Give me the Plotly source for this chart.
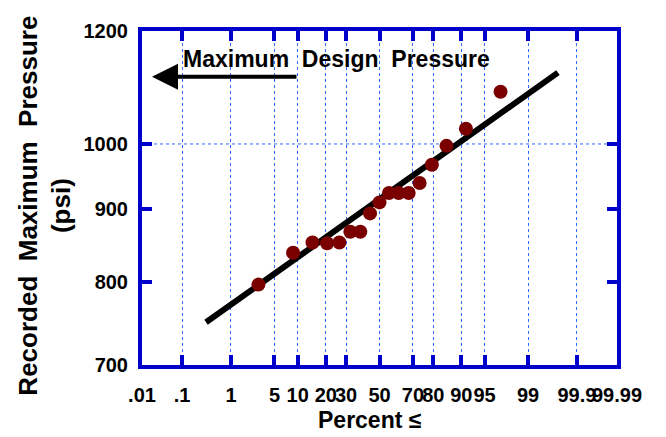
import math
import plotly.graph_objects as go
from statistics import NormalDist

# ---- data ----
percent = [2.9, 8.8, 14.7, 20.6, 26.5, 32.4, 38.2, 44.1, 50.0, 55.9,
           61.8, 67.6, 73.5, 79.4, 85.3, 91.2, 97.1]
pressure = [797, 839, 853, 852, 853, 868, 868, 894, 910, 924,
            924, 924, 939, 967, 997, 1025, 1088]

fit_percent = [0.33, 99.74]
fit_pressure = [750, 1122]

tick_percent = [0.01, 0.1, 1, 5, 10, 20, 30, 50, 70, 80, 90, 95, 99, 99.9, 99.99]
tick_labels = [".01", ".1", "1", "5", "10", "20", "30", "50", "70", "80",
               "90", "95", "99", "99.9", "99.99"]
y_ticks = [700, 800, 900, 1000, 1200]
y_labels = ["700", "800", "900", "1000", "1200"]
y_range = [700, 1200]
design_pressure = 1000

nd = NormalDist()
def z(p):
    return nd.inv_cdf(p / 100.0)

FONT = "Liberation Sans, Arial, sans-serif"
BLUE = "#0000CC"
GRID = "#2F6BFF"

fig = go.Figure()

fig.add_trace(go.Scatter(
    x=[z(p) for p in fit_percent], y=fit_pressure, mode="lines",
    line=dict(color="black", width=6), showlegend=False, hoverinfo="skip"))

fig.add_trace(go.Scatter(
    x=[z(p) for p in percent], y=pressure, mode="markers",
    marker=dict(color="#7A0000", size=14, line=dict(width=0)),
    showlegend=False))

zmin, zmax = z(tick_percent[0]), z(tick_percent[-1])

# page body has an 8px margin; figure sized to compensate
fig.update_layout(
    width=658, height=429,
    margin=dict(l=134, r=49, t=21, b=72),
    paper_bgcolor="white", plot_bgcolor="white",
    font=dict(family=FONT, color="black", size=20, weight="bold"),
    xaxis=dict(
        range=[zmin, zmax],
        tickvals=[z(p) for p in tick_percent], ticktext=tick_labels,
        tickangle=0,
        showgrid=True, gridcolor=GRID, griddash="dot", gridwidth=1,
        zeroline=False,
        showline=True, linecolor=BLUE, linewidth=4, mirror="ticks",
        ticks="inside", ticklen=10, tickwidth=4, tickcolor=BLUE,
        ticklabelstandoff=9,
        tickfont=dict(family=FONT, size=20, color="black", weight="bold"),
    ),
    yaxis=dict(
        type="log",
        range=[math.log10(y_range[0]), math.log10(y_range[1])],
        tickvals=y_ticks, ticktext=y_labels,
        showgrid=False, zeroline=False,
        showline=True, linecolor=BLUE, linewidth=4, mirror="ticks",
        ticks="inside", ticklen=10, tickwidth=4, tickcolor=BLUE,
        ticklabelstandoff=6,
        tickfont=dict(family=FONT, size=20, color="black", weight="bold"),
    ),
)

# horizontal dotted grid at the design pressure
fig.add_shape(type="line", xref="paper", x0=0, x1=1, yref="y",
              y0=design_pressure, y1=design_pressure,
              line=dict(color=GRID, width=1, dash="dot"), layer="below")

# arrow and label
fig.add_annotation(xref="paper", yref="paper", x=0.021, y=0.863,
                   axref="pixel", ayref="pixel", ax=146, ay=0,
                   text="", showarrow=True, arrowhead=2, arrowsize=1.3,
                   arrowwidth=4, arrowcolor="black")
fig.add_annotation(xref="paper", yref="paper", x=0.41, y=0.917,
                   text="Maximum  Design  Pressure", showarrow=False,
                   xanchor="center", yanchor="middle",
                   font=dict(family=FONT, size=23, color="black", weight="bold"))

# axis titles
fig.add_annotation(xref="paper", yref="paper", x=-0.205, y=0.476,
                   text="Recorded  Maximum  Pressure<br>(psi)", showarrow=False,
                   textangle=-90, xanchor="center", yanchor="middle",
                   font=dict(family=FONT, size=26, color="black", weight="bold"))
fig.add_annotation(xref="paper", yref="paper", x=0.48, y=-0.164,
                   text="Percent ≤", showarrow=False,
                   xanchor="center", yanchor="middle",
                   font=dict(family=FONT, size=23, color="black", weight="bold"))

fig.write_html("out.html")
